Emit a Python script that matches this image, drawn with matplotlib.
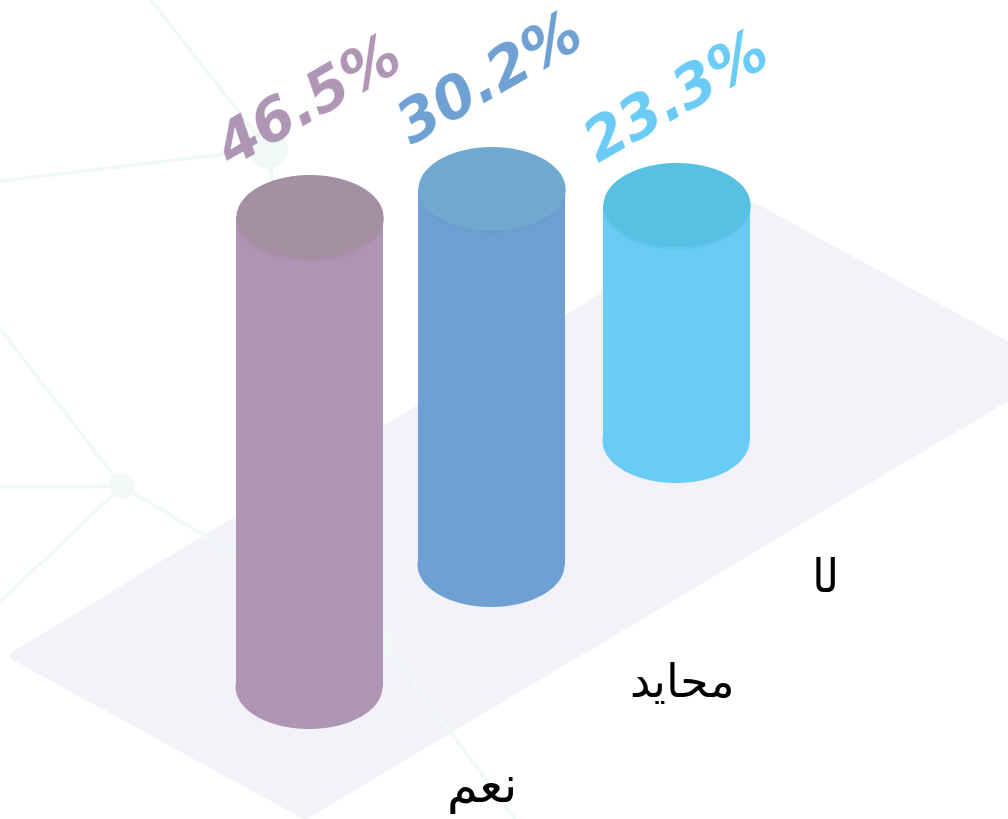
import matplotlib
matplotlib.use('Agg')
import matplotlib.pyplot as plt
from matplotlib.patches import Ellipse, Rectangle, Polygon, Circle

# values
percents = [46.5, 30.2, 23.3]
bar_heights = [470, 376, 236]
# Arabic words in visual order, shaped forms (matplotlib does no shaping): na'am, mohayed, la
categories = ['\ufee2\ufecc\ufee7', '\ufeaa\ufef3\ufe8e\ufea4\ufee3', '\ufe8e\ufedf']

body_colors = ['#ae95b4', '#6ea0d3', '#69ccf6']
top_colors = ['#a48fa3', '#70a9d0', '#58c0e3']
rim_colors = ['#aa90ad', '#6c9dcf', '#62c6f0']

# layout, in pixels of the picture
base_x = [309, 491, 676]
base_y = [688, 566, 442]
rx = 73.5
ry = 42
label_xy = [(310, 103), (491, 80), (677, 98)]
cat_xy = [(482, 790), (682, 685), (826, 580)]
cat_sizes = [36, 33, 33]

fig = plt.figure(figsize=(10.08, 8.2), dpi=100)
ax = fig.add_axes([0, 0, 1, 1])
ax.set_xlim(0, 1008)
ax.set_ylim(820, 0)
ax.axis('off')

# floor
ax.add_patch(Polygon([(14, 657), (752, 207), (1052, 371), (305, 816)], closed=True,
                     facecolor='#f3f2f9', edgecolor='#f3f2f9', linewidth=6,
                     joinstyle='round', zorder=1))

# network in the background
net = '#f0f9f6'
segs = [((150, 0), (268, 150)), ((0, 182), (268, 150)), ((268, 150), (280, 230)),
        ((0, 330), (122, 487)), ((0, 487), (122, 487)), ((0, 603), (122, 487)),
        ((122, 487), (385, 645)), ((385, 645), (515, 820))]
for a, b in segs:
    ax.plot([a[0], b[0]], [a[1], b[1]], color=net, lw=2.5, zorder=2, solid_capstyle='butt')
ax.add_patch(Circle((268, 150), 19, color=net, zorder=2))
ax.add_patch(Circle((122, 487), 12, color=net, zorder=2))
ax.add_patch(Circle((378, 645), 15, color=net, zorder=2))

for i in range(3):
    x = base_x[i]
    y = base_y[i]
    top = y - bar_heights[i]
    ax.add_patch(Ellipse((x, y), 2 * rx, 2 * ry, facecolor=body_colors[i], edgecolor='none', zorder=3))
    ax.add_patch(Rectangle((x - rx, top), 2 * rx, bar_heights[i], facecolor=body_colors[i],
                           edgecolor='none', zorder=3))
    ax.add_patch(Ellipse((x + 1, top + 3), 2 * rx, 2 * ry, facecolor=rim_colors[i], edgecolor='none', zorder=4))
    ax.add_patch(Ellipse((x + 1, top), 2 * rx, 2 * ry, facecolor=top_colors[i], edgecolor='none', zorder=5))
    ax.text(label_xy[i][0], label_xy[i][1], '%.1f%%' % percents[i], color=body_colors[i],
            fontsize=42, family='DejaVu Sans', weight='bold', style='italic',
            rotation=30, rotation_mode='anchor', ha='center', va='center', zorder=6)
    ax.text(cat_xy[i][0], cat_xy[i][1], categories[i], color='black', fontsize=cat_sizes[i],
            family='DejaVu Sans', ha='center', va='center', zorder=6)

plt.savefig('out.png', dpi=100)
